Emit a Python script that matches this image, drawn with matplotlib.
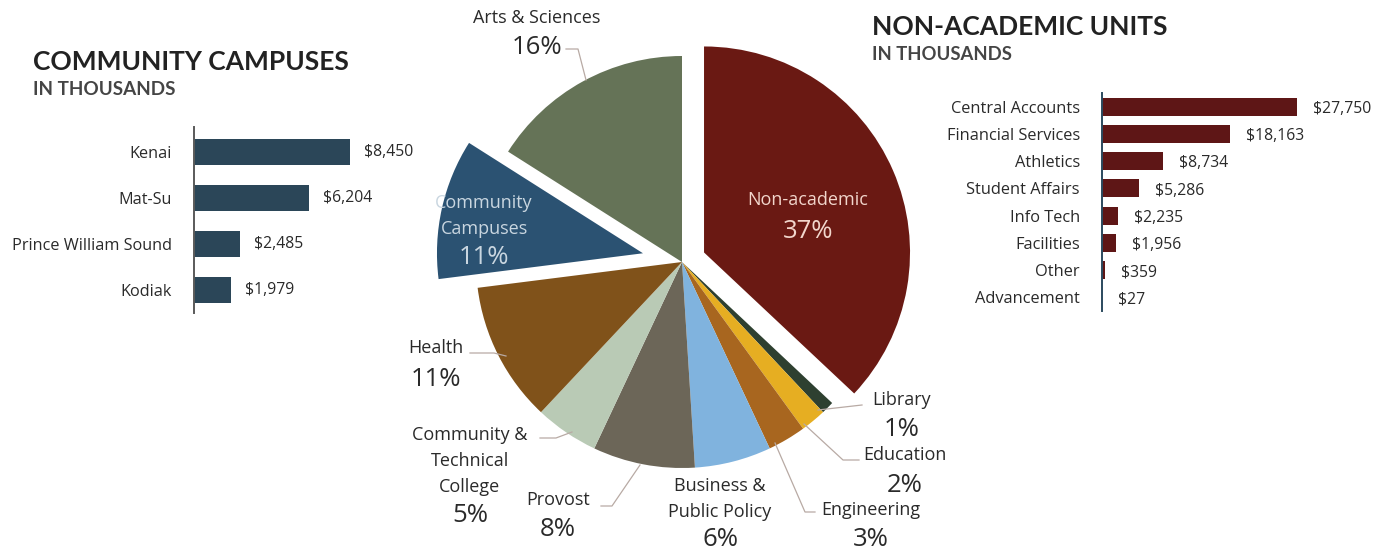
import matplotlib
matplotlib.use("Agg")
import matplotlib.pyplot as plt

# ── data ──────────────────────────────────────────────────────────────────────
campus_names  = ["Kenai", "Mat-Su", "Prince William Sound", "Kodiak"]
campus_values = [8450, 6204, 2485, 1979]

nonacad_names  = ["Central Accounts", "Financial Services", "Athletics", "Student Affairs",
                  "Info Tech", "Facilities", "Other", "Advancement"]
nonacad_values = [27750, 18163, 8734, 5286, 2235, 1956, 359, 27]

pie_names  = ["Non-academic", "Library", "Education", "Engineering", "Business &\nPublic Policy",
              "Provost", "Community &\nTechnical\nCollege", "Health", "Community\nCampuses",
              "Arts & Sciences"]
pie_values = [37, 1, 2, 3, 6, 8, 5, 11, 11, 16]

# ── styles ────────────────────────────────────────────────────────────────────
W, H = 1397, 552
PIE_COLORS = ["#6a1913", "#2e4030", "#e6ae22", "#a8661f", "#80b3de",
              "#6c6658", "#b9cab5", "#80521a", "#2b5272", "#657357"]
EXPLODE = [24, 0, 0, 0, 0, 0, 0, 0, 40, 0]
BLUE_BAR = "#2b4658"
RED_BAR  = "#5e1616"
TXT      = "#2a2a2a"
LEAD     = "#b8aaa4"
FONT     = "Open Sans"

plt.rcParams["font.family"] = [FONT, "DejaVu Sans"]

fig = plt.figure(figsize=(W / 100, H / 100), dpi=100)
fig.patch.set_facecolor("white")


def py(y):
    return H - y


# ── pie (axes in pixel units) ─────────────────────────────────────────────────
ax = fig.add_axes([0, 0, 1, 1])
ax.pie(pie_values, colors=PIE_COLORS, explode=EXPLODE, startangle=90,
       counterclock=False, radius=206, center=(682, py(262)),
       wedgeprops=dict(linewidth=0))
ax.set_xlim(0, W)
ax.set_ylim(0, H)
ax.set_aspect("auto")
ax.axis("off")

def lab(x, y, name, pct, color=TXT, gap=30, fs=13, pfs=18.5):
    ax.text(x, py(y), name, ha="center", va="center", fontsize=fs, color=color,
            linespacing=1.6)
    ax.text(x, py(y + gap), f"{pct}%", ha="center", va="center", fontsize=pfs, color=color)

def lead(pts):
    ax.plot([p[0] for p in pts], [py(p[1]) for p in pts], color=LEAD, lw=0.9)

v = dict(zip(pie_names, pie_values))
lab(537, 18, "Arts & Sciences", v["Arts & Sciences"])
lead([(566, 49), (578, 49), (586, 80)])

lab(808, 200, "Non-academic", v["Non-academic"], color="#f2d6cc", gap=32)
lab(484, 216, "Community\nCampuses", v["Community\nCampuses"], color="#c9d6e0", gap=42)

lab(436, 348, "Health", v["Health"], gap=32)
lead([(470, 353), (494, 353), (506, 356)])

lab(470, 461, "Community &\nTechnical\nCollege", v["Community &\nTechnical\nCollege"], gap=55)
lead([(540, 438), (556, 438), (572, 432)])

lab(558, 500, "Provost", v["Provost"], gap=30)
lead([(601, 506), (612, 506), (640, 465)])

lab(720, 499, "Business &\nPublic Policy", v["Business &\nPublic Policy"], gap=41)

lab(871, 510, "Engineering", v["Engineering"], gap=30)
lead([(815, 512), (805, 512), (775, 443)])

lab(905, 455, "Education", v["Education"], gap=30)
lead([(859, 460), (843, 460), (804, 424)])

lab(902, 400, "Library", v["Library"], gap=30)
lead([(862, 405), (818, 410)])

# ── left bar chart ────────────────────────────────────────────────────────────
PX_L = 156 / 8450.0
axl = fig.add_axes([194 / W, py(313) / H, 200 / W, 186 / H])
ypos = list(range(len(campus_values)))
axl.barh(ypos, campus_values, height=0.57, color=BLUE_BAR)
axl.set_ylim(len(campus_values) - 0.5, -0.55)
axl.set_xlim(0, 200 / PX_L)
for s in ["top", "right", "bottom"]:
    axl.spines[s].set_visible(False)
axl.spines["left"].set_color("#5a5a5a")
axl.spines["left"].set_linewidth(1.4)
axl.set_xticks([])
axl.set_yticks(ypos)
axl.set_yticklabels(campus_names, fontsize=11.7, color=TXT)
axl.tick_params(axis="y", length=0, pad=16)
for i, val in enumerate(campus_values):
    axl.text(val + 14 / PX_L, i, f"${val:,}", va="center", ha="left", fontsize=11.3, color=TXT)

fig.text(33 / W, py(62) / H, "COMMUNITY CAMPUSES", fontsize=19, fontweight="bold",
         color="#222222", va="center", ha="left", family="Lato")
fig.text(33 / W, py(90) / H, "IN THOUSANDS", fontsize=13.6, fontweight="bold",
         color="#454545", va="center", ha="left", family="Lato")

# ── right bar chart ───────────────────────────────────────────────────────────
PX_R = 195 / 27750.0
axr = fig.add_axes([1102 / W, py(311) / H, 270 / W, 218 / H])
ypos = list(range(len(nonacad_values)))
axr.barh(ypos, nonacad_values, height=0.66, color=RED_BAR)
axr.set_ylim(len(nonacad_values) - 0.5, -0.5)
axr.set_xlim(0, 270 / PX_R)
for s in ["top", "right", "bottom"]:
    axr.spines[s].set_visible(False)
axr.spines["left"].set_color("#2b4a5e")
axr.spines["left"].set_linewidth(1.4)
axr.set_xticks([])
axr.set_yticks(ypos)
axr.set_yticklabels(nonacad_names, fontsize=11.8, color=TXT)
axr.tick_params(axis="y", length=0, pad=16)
for i, val in enumerate(nonacad_values):
    axr.text(val + 16 / PX_R, i + 0.08, f"${val:,}", va="center", ha="left", fontsize=11.3, color=TXT)

fig.text(872 / W, py(27) / H, "NON-ACADEMIC UNITS", fontsize=19, fontweight="bold",
         color="#222222", va="center", ha="left", family="Lato")
fig.text(872 / W, py(55) / H, "IN THOUSANDS", fontsize=13.3, fontweight="bold",
         color="#454545", va="center", ha="left", family="Lato")

fig.savefig("out.png", dpi=100, facecolor="white")
